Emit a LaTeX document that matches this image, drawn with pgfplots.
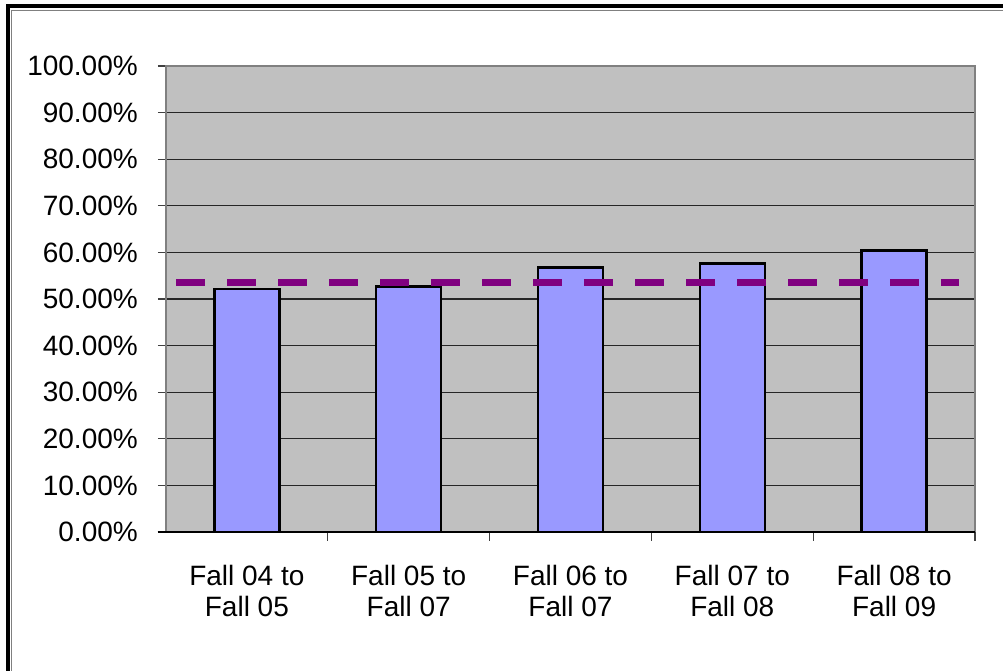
\documentclass[border=0pt]{standalone}
\usepackage{pgfplots}
\pgfplotsset{compat=1.18}
\usepackage{fontspec}
\setmainfont{Liberation Sans}
\definecolor{barblue}{HTML}{9999FF}
\definecolor{plotgray}{HTML}{C0C0C0}
\definecolor{avgpurple}{HTML}{800080}
\begin{document}
\begin{tikzpicture}[x=1pt,y=1pt]
\path[use as bounding box] (0,0) rectangle (1003,671);
\draw[black, line width=4pt, line join=miter] (7.5,0) -- (7.5,665) -- (1003,665);
\draw[black!50, line width=1pt] (11.5,0) -- (11.5,660.5) -- (1003,660.5);
\begin{axis}[
  at={(166pt,139pt)}, anchor=south west,
  scale only axis, width=809pt, height=466pt,
  xmin=-0.5, xmax=4.5, ymin=0, ymax=100,
  clip=false,
  axis background/.style={fill=plotgray},
  axis line style={draw=black!50, line width=1.2pt},
  xtick pos=bottom, ytick pos=left,
  tick align=outside, major tick length=8pt,
  every tick label/.append style={font=\fontsize{28}{31}\selectfont},
  ytick={0,10,...,100},
  yticklabels={0.00\%,10.00\%,20.00\%,30.00\%,40.00\%,50.00\%,60.00\%,70.00\%,80.00\%,90.00\%,100.00\%},
  y tick style={draw=black!75, line width=1.2pt},
  ymajorgrids, grid style={draw=black!85, line width=1.3pt},
  yticklabel style={inner sep=0pt, xshift=-20pt},
  xtick={0,1,2,3,4},
  xticklabels={{Fall 04 to\\Fall 05},{Fall 05 to\\Fall 07},{Fall 06 to\\Fall 07},{Fall 07 to\\Fall 08},{Fall 08 to\\Fall 09}},
  xticklabel style={align=center, inner sep=0pt, yshift=-25pt},
  x tick style={draw=none},
  extra x ticks={0.5,1.5,2.5,3.5,4.5},
  extra x tick labels={},
  extra x tick style={x tick style={draw=black!75, line width=1.2pt}, major tick length=9pt},
]
\addplot[ybar, bar width=65pt, fill=barblue, draw=black, line width=2.4pt]
  coordinates {(0,52.1) (1,52.7) (2,56.8) (3,57.6) (4,60.4)};
\addplot[avgpurple, line width=7pt, dash pattern=on 29pt off 22pt]
  coordinates {(-0.438,53.5) (4.40,53.5)};
\draw[black, line width=1.6pt] (axis cs:-0.552,0) -- (axis cs:4.5,0);
\end{axis}
\end{tikzpicture}
\end{document}
